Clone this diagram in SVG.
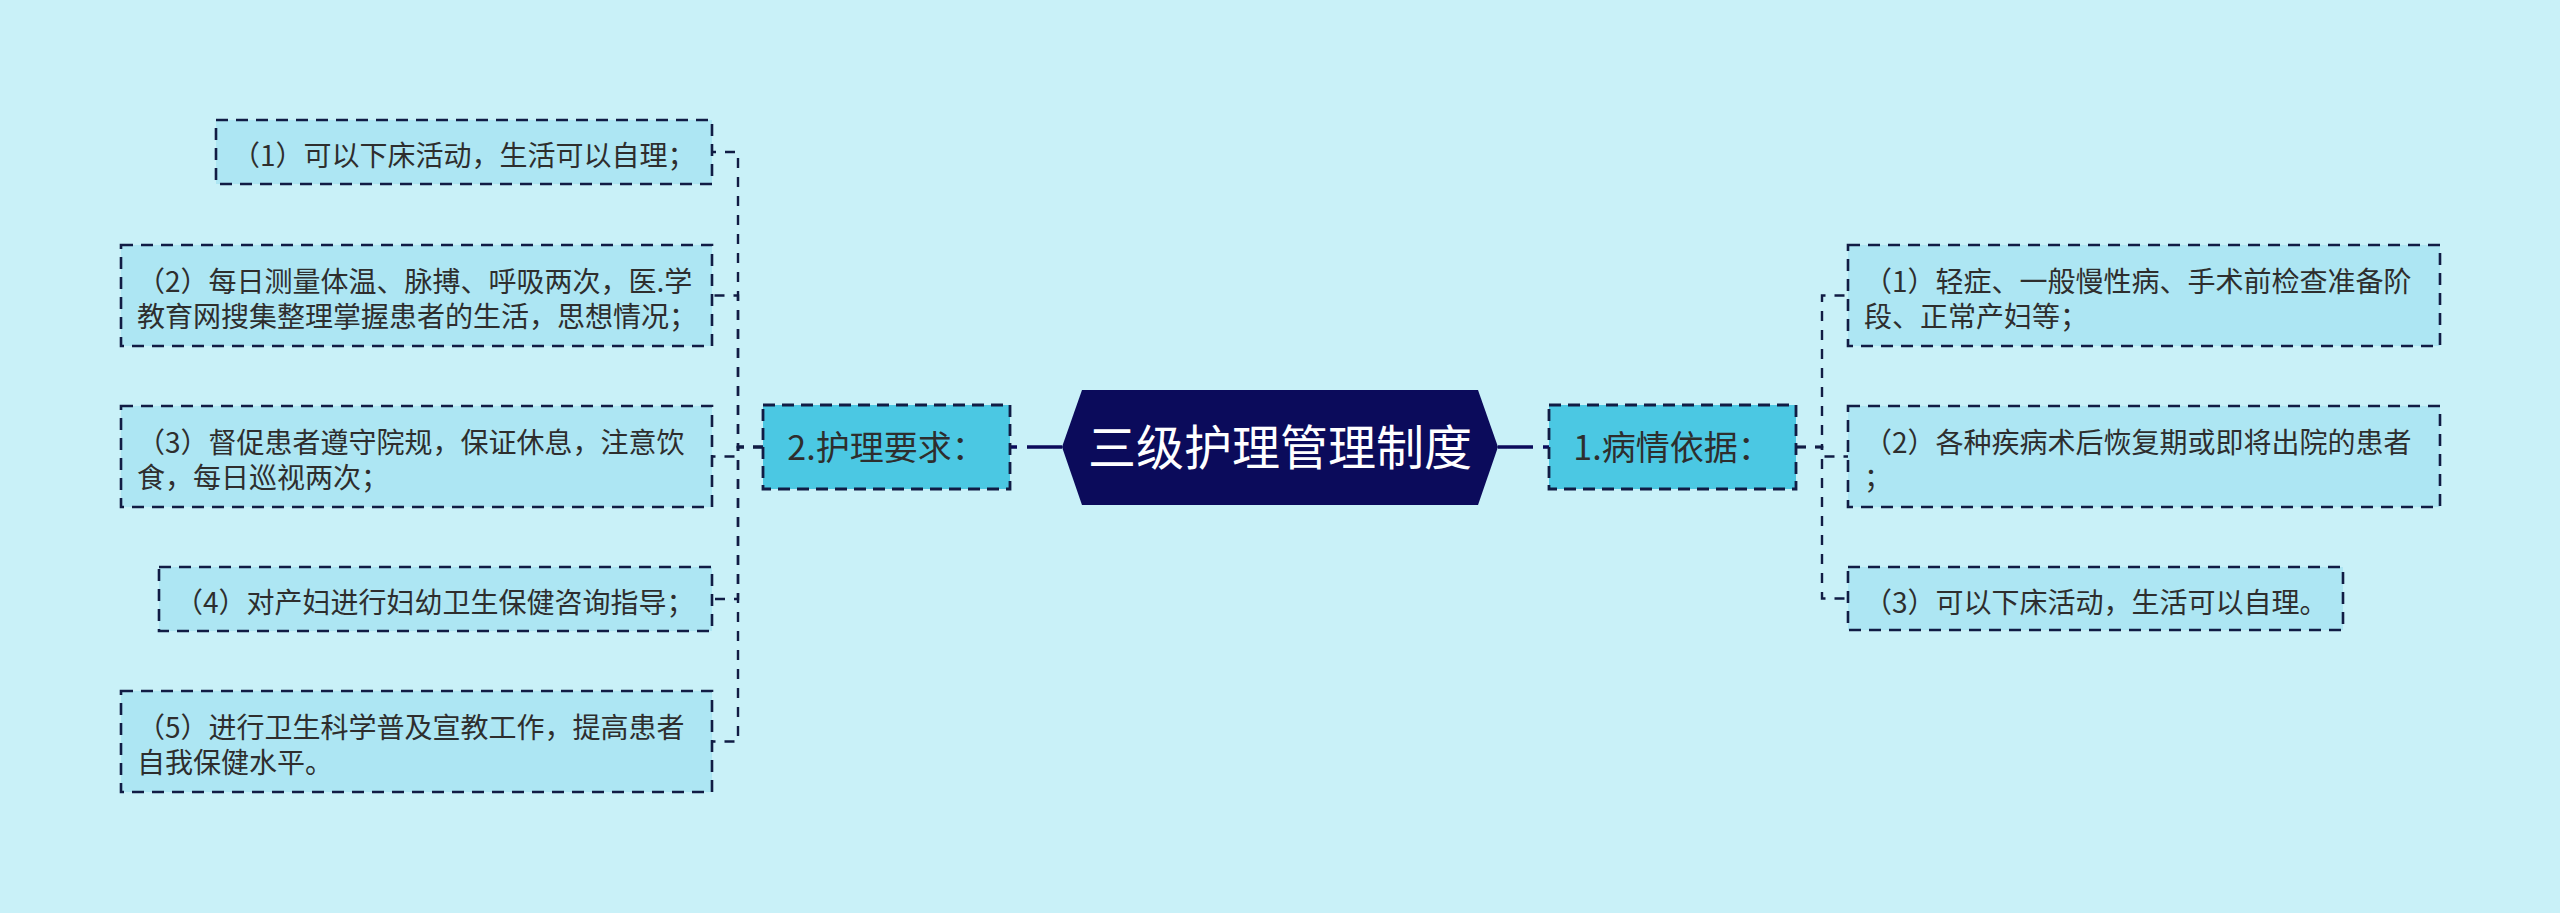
<svg xmlns="http://www.w3.org/2000/svg" width="2560" height="913" viewBox="0 0 2560 913">
<style>
.t{font-family:"Noto Sans CJK SC","Noto Sans",sans-serif;fill:#2E2E2E}
.leaf{fill:#ADE6F3;stroke:#111C44;stroke-width:2.6;stroke-dasharray:12 8}
.branch{fill:#4BC8E3;stroke:#111C44;stroke-width:2.8;stroke-dasharray:12 7}
.c{fill:none;stroke:#111C44;stroke-width:2.4;stroke-dasharray:10 9}
.m{fill:none;stroke:#0B0B5B;stroke-width:3.4;stroke-dasharray:35 10 6 200}
</style>
<rect x="0" y="0" width="2560" height="913" fill="#C9F1F8"/>
<g id="connectors">
<path class="m" d="M1498 447 H1549"/>
<path class="m" d="M1062 447 H1011"/>
<path class="c" d="M1796 447 H1822 V295.5 H1848"/>
<path class="c" d="M1796 447 H1822 V456.5 H1848"/>
<path class="c" d="M1796 447 H1822 V598.5 H1848"/>
<path class="c" d="M763 447 H738 V152 H712"/>
<path class="c" d="M763 447 H738 V295.5 H712"/>
<path class="c" d="M763 447 H738 V456.5 H712"/>
<path class="c" d="M763 447 H738 V599 H712"/>
<path class="c" d="M763 447 H738 V741.5 H712"/>
</g>
<g id="root">
<polygon points="1062,447 1082,390 1478,390 1498,447 1478,505 1082,505" fill="#0B0B5B"/>
<text class="t" x="1280" y="465" font-size="48" text-anchor="middle" style="fill:#FFFFFF">三级护理管理制度</text>
</g>
<g id="b1">
<rect class="branch" x="1549" y="405" width="247" height="84"/>
<text class="t" x="1672.5" y="460" font-size="34" text-anchor="middle">1.病情依据：</text>
</g>
<g id="b2">
<rect class="branch" x="763" y="405" width="247" height="84"/>
<text class="t" x="886.5" y="460" font-size="34" text-anchor="middle">2.护理要求：</text>
</g>
<g id="r1">
<rect class="leaf" x="1848" y="245" width="592" height="101"/>
<text class="t" font-size="28"><tspan x="1864" y="291.5">（1）轻症、一般慢性病、手术前检查准备阶</tspan><tspan x="1864" y="326.5">段、正常产妇等；</tspan></text>
</g>
<g id="r2">
<rect class="leaf" x="1848" y="406" width="592" height="101"/>
<text class="t" font-size="28"><tspan x="1864" y="452.5">（2）各种疾病术后恢复期或即将出院的患者</tspan><tspan x="1864" y="487.5">；</tspan></text>
</g>
<g id="r3">
<rect class="leaf" x="1848" y="567" width="495" height="63"/>
<text class="t" font-size="28" x="1864" y="612.5">（3）可以下床活动，生活可以自理。</text>
</g>
<g id="l1">
<rect class="leaf" x="216" y="120" width="496" height="64"/>
<text class="t" font-size="28" x="232" y="166">（1）可以下床活动，生活可以自理；</text>
</g>
<g id="l2">
<rect class="leaf" x="121" y="245" width="591" height="101"/>
<text class="t" font-size="28"><tspan x="137" y="291.5">（2）每日测量体温、脉搏、呼吸两次，医.学</tspan><tspan x="137" y="326.5">教育网搜集整理掌握患者的生活，思想情况；</tspan></text>
</g>
<g id="l3">
<rect class="leaf" x="121" y="406" width="591" height="101"/>
<text class="t" font-size="28"><tspan x="137" y="452.5">（3）督促患者遵守院规，保证休息，注意饮</tspan><tspan x="137" y="487.5">食，每日巡视两次；</tspan></text>
</g>
<g id="l4">
<rect class="leaf" x="159" y="567" width="553" height="64"/>
<text class="t" font-size="28" x="175" y="613">（4）对产妇进行妇幼卫生保健咨询指导；</text>
</g>
<g id="l5">
<rect class="leaf" x="121" y="691" width="591" height="101"/>
<text class="t" font-size="28"><tspan x="137" y="737.5">（5）进行卫生科学普及宣教工作，提高患者</tspan><tspan x="137" y="772.5">自我保健水平。</tspan></text>
</g>
</svg>
